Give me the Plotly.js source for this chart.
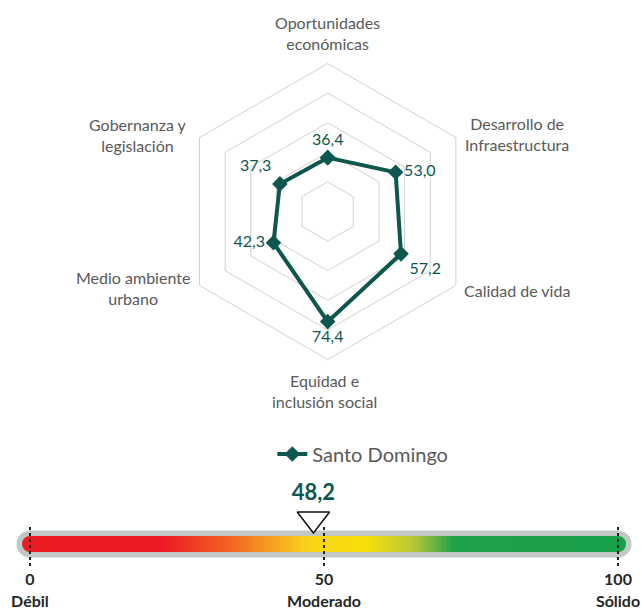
<!DOCTYPE html>
<html>
<head>
<meta charset="utf-8">
<script src="https://cdn.plot.ly/plotly-3.0.1.min.js"></script>
<style>html,body{margin:0;padding:0;background:#fff;}#chart{width:641px;height:611px;}</style>
</head>
<body>
<div id="chart"></div>
<script>
// ---- data ----
const categories = ["Oportunidades<br>económicas", "Desarrollo de<br>Infraestructura", "Calidad de vida",
  "Equidad e<br>inclusión social", "Medio ambiente<br>urbano", "Gobernanza y<br>legislación"];
const values = [36.4, 53.0, 57.2, 74.4, 42.3, 37.3];
const seriesName = "Santo Domingo";
const gaugeTicks = [0, 50, 100];
const gaugeTickLabels = ["Débil", "Moderado", "Sólido"];
const score = 48.2;
// gradient colour stops (position 0..100, colour)
const gradientPos = [0, 23, 35, 47, 57, 65, 72, 100];
const gradientCol = ["#ed1c24", "#ed1c24", "#f26b22", "#f8d21a", "#f8e00a", "#b9c936", "#1fa24a", "#17a04a"];

// ---- styles / layout constants ----
const TEAL = "#0e574f";
const GRAY_TXT = "#595959";
const FONT = "Lato, 'Open Sans', sans-serif";
const fmt = v => v.toFixed(1).replace(".", ",");
const W = 641, H = 611;
const cx = 327.7, cy = 211.5, R = 148;
// category label placement (px from top-left), one per category
const labelPos = [[327, 33], [517, 133.5], [516.5, 290], [325, 390.5], [133, 288], [138, 135]];

// gauge layout constants (y in px from top on a reversed axis)
const BAR_Y = 544, TRI_Y = 519, SCORE_Y = 494, NUM_Y = 581, WORD_Y = 603, DOT_Y0 = 527, DOT_Y1 = 568;
const BORDER_W = 27, FILL_W = 16;
const BORDER_COL = "#c2c8c8";

const closedTheta = categories.concat([categories[0]]);
const closedR = values.concat([values[0]]);

const radar = {
  type: "scatterpolar", subplot: "polar",
  theta: closedTheta, r: closedR,
  mode: "lines+markers+text",
  name: seriesName,
  line: {color: TEAL, width: 4},
  marker: {symbol: "diamond", size: 12, color: TEAL},
  text: closedR.map((v, i) => i < values.length ? fmt(v) : ""),
  textposition: ["top center", "middle right", "bottom right", "bottom center", "middle left", "top left", "top center"],
  textfont: {family: FONT, size: 16, color: TEAL},
  hoverinfo: "skip",
  cliponaxis: false
};

// gauge gradient via heatmap
const nCells = 200;
const edges = [], mids = [];
for (let i = 0; i <= nCells; i++) edges.push(100 * i / nCells);
for (let i = 0; i < nCells; i++) mids.push(100 * (i + 0.5) / nCells);
const colorscale = gradientPos.map((p, i) => [p / 100, gradientCol[i]]);
const g0 = gaugeTicks[0], g1 = gaugeTicks[gaugeTicks.length - 1];

const grad = {
  type: "heatmap", xaxis: "x", yaxis: "y",
  x: edges, y: [BAR_Y - FILL_W / 2, BAR_Y + FILL_W / 2], z: [mids],
  colorscale: colorscale, zmin: 0, zmax: 100, showscale: false, hoverinfo: "skip"
};
const ends = {
  type: "scatter", xaxis: "x", yaxis: "y",
  x: [g0, g1], y: [BAR_Y, BAR_Y],
  mode: "markers", marker: {size: FILL_W, color: [gradientCol[0], gradientCol[gradientCol.length - 1]], line: {width: 0}},
  showlegend: false, hoverinfo: "skip"
};
const dx = [], dy = [];
gaugeTicks.forEach(t => { dx.push(t, t, null); dy.push(DOT_Y0, DOT_Y1, null); });
const dots = {
  type: "scatter", xaxis: "x", yaxis: "y", x: dx, y: dy, mode: "lines",
  line: {color: "#222", width: 2, dash: "dot"}, showlegend: false, hoverinfo: "skip"
};
const tickNums = {
  type: "scatter", xaxis: "x", yaxis: "y", x: gaugeTicks, y: gaugeTicks.map(() => NUM_Y),
  mode: "text", text: gaugeTicks.map(String), textposition: "middle center",
  textfont: {family: FONT, size: 16, color: "#262626", weight: 700}, showlegend: false, hoverinfo: "skip", cliponaxis: false
};
const tickWords = {
  type: "scatter", xaxis: "x", yaxis: "y", x: gaugeTicks, y: gaugeTicks.map(() => WORD_Y),
  mode: "text", text: gaugeTickLabels, textposition: "middle center",
  textfont: {family: FONT, size: 16, color: "#262626", weight: 700}, showlegend: false, hoverinfo: "skip", cliponaxis: false
};
const pointer = {
  type: "scatter", xaxis: "x", yaxis: "y", x: [score], y: [TRI_Y],
  mode: "markers", marker: {symbol: "triangle-down", size: 28, color: "#ffffff", line: {color: "#111", width: 1.5}},
  showlegend: false, hoverinfo: "skip", cliponaxis: false
};
const scoreText = {
  type: "scatter", xaxis: "x", yaxis: "y", x: [score], y: [SCORE_Y],
  mode: "text", text: [fmt(score)], textposition: "middle center",
  textfont: {family: FONT, size: 22, color: TEAL, weight: 700}, showlegend: false, hoverinfo: "skip", cliponaxis: false
};

// gray rounded border of the gauge (below the heatmap)
const shapes = [
  {type: "rect", layer: "below", xref: "x", yref: "y", x0: g0, x1: g1,
    y0: BAR_Y - BORDER_W / 2, y1: BAR_Y + BORDER_W / 2, fillcolor: BORDER_COL, line: {width: 0}}
].concat([g0, g1].map(v => ({
  type: "circle", layer: "below", xref: "x", yref: "y",
  xsizemode: "pixel", xanchor: v, x0: -BORDER_W / 2, x1: BORDER_W / 2,
  ysizemode: "pixel", yanchor: BAR_Y, y0: -BORDER_W / 2, y1: BORDER_W / 2,
  fillcolor: BORDER_COL, line: {width: 0}
})));

const annotations = categories.map((c, i) => ({
  text: c, xref: "paper", yref: "paper",
  x: labelPos[i][0] / W, y: 1 - labelPos[i][1] / H,
  xanchor: "center", yanchor: "middle", align: "center", showarrow: false,
  font: {family: FONT, size: 16, color: GRAY_TXT}
}));

const layout = {
  width: W, height: H,
  margin: {l: 0, r: 0, t: 0, b: 0},
  paper_bgcolor: "#fff", plot_bgcolor: "rgba(0,0,0,0)",
  font: {family: FONT, color: GRAY_TXT},
  showlegend: true,
  legend: {orientation: "h", x: 0.566, y: (H - 454) / H, xanchor: "center", yanchor: "middle",
    font: {family: FONT, size: 20, color: GRAY_TXT}, bgcolor: "rgba(0,0,0,0)"},
  polar: {
    domain: {x: [(cx - R) / W, (cx + R) / W], y: [(H - cy - R) / H, (H - cy + R) / H]},
    gridshape: "linear",
    bgcolor: "rgba(0,0,0,0)",
    angularaxis: {rotation: 90, direction: "clockwise", showgrid: false, showline: true,
      linecolor: "#d0d0d0", linewidth: 1, ticks: "", showticklabels: false},
    radialaxis: {range: [0, 100], tickvals: [20, 40, 60, 80], showticklabels: false, ticks: "",
      showline: false, gridcolor: "#d0d0d0", gridwidth: 1}
  },
  xaxis: {domain: [0, 1], range: [-5.10, 103.91], visible: false, fixedrange: true},
  yaxis: {domain: [0, 1], range: [H, 0], visible: false, fixedrange: true},
  shapes: shapes,
  annotations: annotations
};

Plotly.newPlot("chart", [grad, ends, dots, pointer, scoreText, tickNums, tickWords, radar], layout,
  {displayModeBar: false, staticPlot: true});
</script>
</body>
</html>
